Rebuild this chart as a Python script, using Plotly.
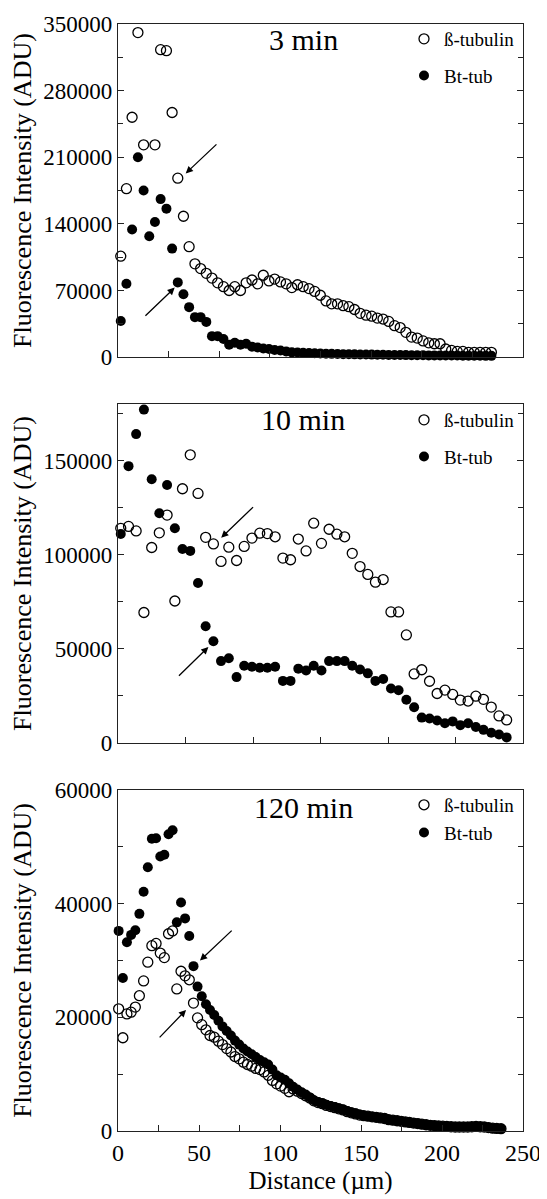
import plotly.graph_objects as go

SERIF = "Liberation Serif"

# ---------------- Panel 1: 3 min ----------------
p1_beta_x = [1.7, 5.2, 8.7, 12.3, 15.8, 22.8, 26.3, 29.9, 33.4, 36.9, 40.4, 43.9, 47.5, 51.0, 54.5,
             58.0, 61.5, 65.1, 68.6, 72.1, 75.6, 79.1, 82.7, 86.2, 89.7, 93.2, 96.7, 100.3, 103.8,
             107.3, 110.8, 114.3, 117.9, 121.4, 124.9, 128.4, 131.9, 135.5, 139.0, 142.5, 146.0,
             149.5, 153.1, 156.6, 160.1, 163.6, 167.1, 170.7, 174.2, 177.7, 181.2, 184.7, 188.3,
             191.8, 195.3, 198.8, 202.3, 205.9, 209.4, 212.9, 216.4, 219.9, 223.5, 227.0, 230.5]
p1_beta_y = [106e3, 177e3, 252e3, 341e3, 223e3, 223e3, 323e3, 322e3, 257e3, 188e3, 148e3, 116e3,
             98e3, 93e3, 88e3, 83e3, 78e3, 74e3, 70e3, 74e3, 70e3, 78e3, 81e3, 77e3, 86e3, 80e3,
             82e3, 79e3, 77e3, 73e3, 76e3, 74e3, 72e3, 69e3, 65e3, 59e3, 56e3, 56e3, 54e3, 53e3,
             50e3, 46e3, 44e3, 43e3, 41e3, 40e3, 37.5e3, 33e3, 31e3, 26e3, 21e3, 20e3, 17e3, 15e3,
             14e3, 14e3, 8.5e3, 7e3, 6e3, 6e3, 5e3, 5e3, 5e3, 5e3, 5e3]
p1_bt_x = [1.7, 5.2, 8.7, 12.3, 15.8, 19.3, 22.8, 26.3, 29.9, 33.4, 36.9, 40.4, 43.9, 47.5, 51.0,
           54.5, 58.0, 61.5, 65.1, 68.6, 72.1, 75.6, 79.1, 82.7, 86.2, 89.7, 93.2, 96.7, 100.3,
           103.8, 107.3, 110.8, 114.3, 117.9, 121.4, 124.9, 128.4, 131.9, 135.5, 139.0, 142.5,
           146.0, 149.5, 153.1, 156.6, 160.1, 163.6, 167.1, 170.7, 174.2, 177.7, 181.2, 184.7,
           188.3, 191.8, 195.3, 198.8, 202.3, 205.9, 209.4, 212.9, 216.4, 219.9, 223.5, 227.0, 230.5]
p1_bt_y = [38e3, 77e3, 134e3, 210e3, 175e3, 127e3, 142e3, 166e3, 156e3, 114e3, 78.5e3, 66e3,
           52.5e3, 42e3, 42e3, 37e3, 22e3, 22e3, 19e3, 13e3, 15e3, 13e3, 14e3, 11e3, 10e3, 9e3,
           8.5e3, 7.5e3, 7e3, 6e3, 5e3, 4.8e3, 4.5e3, 4.3e3, 4.0e3, 3.8e3, 3.6e3, 3.4e3, 3.3e3,
           3.1e3, 3.0e3, 2.9e3, 2.8e3, 2.7e3, 2.6e3, 2.5e3, 2.4e3, 2.3e3, 2.2e3, 2.2e3, 2.1e3,
           2.0e3, 2.0e3, 1.9e3, 1.8e3, 1.8e3, 1.7e3, 1.7e3, 1.6e3, 1.6e3, 1.5e3, 1.5e3, 1.4e3,
           1.4e3, 1.3e3, 1.3e3]

# ---------------- Panel 2: 10 min ----------------
p2_x = [1.7, 6.5, 11.2, 16.0, 20.8, 25.5, 30.3, 35.1, 39.8, 44.6, 49.4, 54.1, 58.9, 63.6, 68.4,
        73.2, 77.9, 82.7, 87.5, 92.2, 97.0, 101.8, 106.5, 111.3, 116.1, 120.8, 125.6, 130.3,
        135.1, 139.9, 144.6, 149.4, 154.2, 158.9, 163.7, 168.5, 173.2, 178.0, 182.8, 187.5,
        192.3, 197.0, 201.8, 206.6, 211.3, 216.1, 220.9, 225.6, 230.4, 235.2, 239.9]
p2_beta_y = [114e3, 115e3, 112.6e3, 69.3e3, 103.8e3, 111.6e3, 121e3, 75.4e3, 135e3, 153e3, 132.5e3,
             109.2e3, 105.7e3, 96.4e3, 104e3, 96.9e3, 104.4e3, 108.8e3, 111.4e3, 111.2e3, 109.5e3,
             98.2e3, 97.3e3, 108.3e3, 102e3, 116.7e3, 106e3, 113.5e3, 110.9e3, 109.5e3, 100.7e3,
             93.7e3, 89.5e3, 85.4e3, 86.8e3, 69.6e3, 69.6e3, 57.4e3, 36.7e3, 38.9e3, 32.8e3,
             26.3e3, 28.1e3, 25.8e3, 22.8e3, 22.3e3, 24.9e3, 23.2e3, 19.1e3, 14.4e3, 12.3e3]
p2_bt_y = [111e3, 147e3, 164e3, 177e3, 140e3, 122e3, 137e3, 114e3, 103e3, 102e3, 85e3, 62e3,
           54e3, 43.5e3, 45e3, 35e3, 41e3, 40.5e3, 40e3, 40e3, 40.5e3, 33e3, 33e3, 39.5e3, 38.5e3,
           41e3, 38.5e3, 43.5e3, 43.5e3, 43.5e3, 41e3, 39e3, 37e3, 33e3, 34e3, 29e3, 28e3, 23e3,
           19e3, 13.5e3, 13e3, 12e3, 10.5e3, 11.5e3, 9.5e3, 10.5e3, 8.5e3, 7e3, 5.5e3, 4.5e3, 3e3]

# ---------------- Panel 3: 120 min ----------------
p3_x = [0.4, 3.0, 5.5, 8.1, 10.7, 13.2, 15.8, 18.4, 20.9, 23.5, 26.1, 28.6, 31.2, 33.7, 36.3,
        38.9, 41.4, 44.0, 46.6, 49.1, 51.7, 54.3, 56.8, 59.4, 62.0, 64.5, 67.1, 69.7, 72.2, 74.8,
        77.4, 79.9, 82.5, 85.0, 87.6, 90.2, 92.7, 95.3, 97.9, 100.4, 103.0, 105.6, 108.1, 110.7,
        113.3, 115.8, 118.4, 120.9, 123.5, 126.1, 128.6, 131.2, 133.8, 136.3, 138.9, 141.5,
        144.0, 146.6, 149.2, 151.7, 154.3, 156.9, 159.4, 162.0, 164.6, 167.1, 169.7, 172.3,
        174.8, 177.4, 179.9, 182.5, 185.1, 187.6, 190.2, 192.8, 195.3, 197.9, 200.5, 203.0,
        205.6, 208.2, 210.7, 213.3, 215.9, 218.4, 221.0, 223.6, 226.1, 228.7, 231.3, 233.8, 236.4]
p3_beta_y = [21.5e3, 16.4e3, 20.6e3, 20.9e3, 21.8e3, 23.8e3, 26.4e3, 29.7e3, 32.6e3, 33.0e3,
             31.3e3, 30.5e3, 34.7e3, 35.2e3, 25.0e3, 28.1e3, 27.3e3, 26.6e3, 22.5e3, 19.9e3,
             18.7e3, 17.8e3, 16.8e3, 16.5e3, 15.8e3, 15.2e3, 14.5e3, 13.9e3, 13.1e3, 12.7e3,
             12.1e3, 11.7e3, 11.4e3, 11.0e3, 10.8e3, 10.4e3, 9.8e3, 8.9e3, 8.3e3, 7.9e3, 7.5e3,
             6.9e3, 7.4e3, 7.0e3, 6.6e3, 6.2e3, 5.8e3, 5.3e3, 5.0e3, 4.8e3, 4.5e3, 4.3e3, 4.1e3,
             3.9e3, 3.7e3, 3.4e3, 3.2e3, 3.0e3, 2.8e3, 2.7e3, 2.6e3, 2.5e3, 2.4e3, 2.3e3, 2.2e3,
             2.0e3, 1.9e3, 1.8e3, 1.7e3, 1.6e3, 1.5e3, 1.4e3, 1.3e3, 1.2e3, 1.1e3, 1.0e3, 0.95e3,
             0.9e3, 0.85e3, 0.8e3, 0.75e3, 0.7e3, 0.7e3, 0.7e3, 0.7e3, 0.75e3, 0.8e3, 0.75e3,
             0.7e3, 0.6e3, 0.5e3, 0.45e3, 0.4e3]
p3_bt_y = [35.2e3, 26.9e3, 33.2e3, 34.5e3, 35.3e3, 38.2e3, 42.1e3, 46.4e3, 51.4e3, 51.5e3, 48.3e3,
           48.6e3, 52.2e3, 52.9e3, 36.7e3, 40.2e3, 37.4e3, 34.3e3, 29.0e3, 25.4e3, 23.7e3, 22.3e3,
           21.3e3, 20.4e3, 19.4e3, 18.4e3, 17.6e3, 16.8e3, 15.9e3, 15.2e3, 14.5e3, 14.0e3, 13.5e3,
           13.0e3, 12.5e3, 12.1e3, 11.7e3, 10.8e3, 9.8e3, 9.4e3, 9.0e3, 8.4e3, 7.8e3, 7.3e3,
           6.8e3, 6.4e3, 5.9e3, 5.4e3, 5.1e3, 4.9e3, 4.6e3, 4.4e3, 4.2e3, 4.0e3, 3.8e3, 3.5e3,
           3.3e3, 3.1e3, 2.9e3, 2.7e3, 2.6e3, 2.5e3, 2.4e3, 2.3e3, 2.2e3, 2.0e3, 1.9e3, 1.8e3,
           1.7e3, 1.6e3, 1.5e3, 1.4e3, 1.3e3, 1.2e3, 1.1e3, 1.0e3, 0.95e3, 0.9e3, 0.85e3, 0.8e3,
           0.75e3, 0.7e3, 0.7e3, 0.7e3, 0.7e3, 0.75e3, 0.8e3, 0.75e3, 0.7e3, 0.6e3, 0.5e3,
           0.45e3, 0.4e3]

series_names = ["ß-tubulin", "Bt-tub"]
panel_titles = ["3 min", "10 min", "120 min"]
y_tick_steps = [70000, 50000, 20000]
y_ranges = [[0, 350000], [0, 180000], [0, 60000]]
x_tick_labels = ["0", "50", "100", "150", "200", "250"]

# arrows: (head_x, head_y, tail_x, tail_y) per panel
arrows = [
    [(41.8, 193e3, 61.7, 225e3), (35.0, 73e3, 16.0, 42e3)],
    [(63.7, 109e3, 84.3, 126e3), (55.8, 51e3, 36.7, 35e3)],
    [(50.6, 30e3, 71.1, 35.5e3), (42.0, 21.3e3, 24.8, 16.2e3)],
]

panels = [
    (p1_beta_x, p1_beta_y, p1_bt_x, p1_bt_y),
    (p2_x, p2_beta_y, p2_x, p2_bt_y),
    (p3_x, p3_beta_y, p3_x, p3_bt_y),
]

fig = go.Figure()
legend_ids = ["legend", "legend2", "legend3"]
for i, (bx, by, fx, fy) in enumerate(panels):
    xa = "x" if i == 0 else f"x{i+1}"
    ya = "y" if i == 0 else f"y{i+1}"
    fig.add_trace(go.Scatter(
        x=bx, y=by, mode="markers", name=series_names[0], xaxis=xa, yaxis=ya,
        legend=legend_ids[i], legendgroup=f"b{i}", cliponaxis=False,
        marker=dict(symbol="circle-open", size=10, color="black", line=dict(width=1.3, color="black"))))
    fig.add_trace(go.Scatter(
        x=fx, y=fy, mode="markers", name=series_names[1], xaxis=xa, yaxis=ya,
        legend=legend_ids[i], legendgroup=f"f{i}", cliponaxis=False,
        marker=dict(symbol="circle", size=10, color="black", line=dict(width=0))))

# page is 547x1199; the html body adds an 8px offset, so the figure is 8px smaller
PAGE_W, PAGE_H, OFF = 547, 1199, 8
W, H = PAGE_W - OFF, PAGE_H - OFF
# plot area in page pixels
L_PIX, R_PIX, T_PIX, B_PIX = 118, 523, 21, 1131
mt, mb, ml, mr = T_PIX - OFF, PAGE_H - B_PIX, L_PIX - OFF, PAGE_W - R_PIX
plot_h = B_PIX - T_PIX


def py(pix):
    return (B_PIX - pix) / plot_h


def px(pix):
    return (pix - L_PIX) / (R_PIX - L_PIX)


y_domains = [[py(355), 1.0], [py(742), py(402)], [0.0, py(789)]]

line_col = "#222222"
axis_common = dict(showgrid=False, zeroline=False, showline=True, linecolor=line_col,
                   linewidth=1.3, ticks="inside", ticklen=6, tickwidth=1.2, tickcolor=line_col,
                   automargin=False, ticklabeloverflow="allow")
layout = dict(
    width=W, height=H, paper_bgcolor="white", plot_bgcolor="white",
    margin=dict(t=mt, b=mb, l=ml, r=mr),
    font=dict(family=SERIF, color="black"),
    showlegend=True,
)
x_dticks = [250 / 8, 250 / 6, 50]
for i in range(3):
    xk = "xaxis" if i == 0 else f"xaxis{i+1}"
    yk = "yaxis" if i == 0 else f"yaxis{i+1}"
    ya = "y" if i == 0 else f"y{i+1}"
    xa = "x" if i == 0 else f"x{i+1}"
    xd = dict(axis_common, range=[0, 250], domain=[0, 1], anchor=ya, mirror=True,
              tick0=0, dtick=x_dticks[i], showticklabels=(i == 2),
              tickfont=dict(family=SERIF, size=24, color="black"))
    if i == 2:
        xd["tickmode"] = "array"
        xd["tickvals"] = [float(t) for t in x_tick_labels]
        xd["ticktext"] = x_tick_labels
        xd["minor"] = dict(ticks="inside", ticklen=6, tickwidth=1.2, tickcolor=line_col, dtick=25, tick0=0)
        xd["title"] = dict(text="Distance (µm)", font=dict(family=SERIF, size=25, color="black"), standoff=6)
    layout[xk] = xd
    layout[yk] = dict(axis_common, range=y_ranges[i], domain=y_domains[i], anchor=xa,
                      mirror="ticks", tick0=0, dtick=y_tick_steps[i], tickformat="d",
                      tickfont=dict(family=SERIF, size=23, color="black"),
                      ticklabelstandoff=0,
                      minor=dict(ticks="inside", ticklen=5, tickwidth=1.2, tickcolor=line_col,
                                 dtick=y_tick_steps[i] / 2, tick0=0),
                      title=dict(text="Fluorescence Intensity (ADU)",
                                 font=dict(family=SERIF, size=26, color="black"),
                                 standoff=5 if i < 2 else 17))

leg_tops = [17, 399, 785]
leg_gaps = [9, 9, 0]
for i, lid in enumerate(legend_ids):
    layout[lid] = dict(x=px(404), y=py(leg_tops[i]), xanchor="left", yanchor="top",
                       bgcolor="rgba(0,0,0,0)", borderwidth=0,
                       font=dict(family=SERIF, size=19, color="black"),
                       tracegroupgap=leg_gaps[i], itemwidth=30, traceorder="grouped")

annotations = []
title_centers = [37, 418, 807]
for i in range(3):
    annotations.append(dict(text=panel_titles[i], xref="paper", yref="paper",
                            x=px(303), y=py(title_centers[i]), xanchor="center", yanchor="middle",
                            showarrow=False, font=dict(family=SERIF, size=30, color="black")))
    xa = "x" if i == 0 else f"x{i+1}"
    ya = "y" if i == 0 else f"y{i+1}"
    for (hx, hy, tx, ty) in arrows[i]:
        annotations.append(dict(text="", x=hx, y=hy, ax=tx, ay=ty, xref=xa, yref=ya,
                                axref=xa, ayref=ya, showarrow=True, arrowhead=2,
                                arrowsize=1.1, arrowwidth=1.3, arrowcolor="black", standoff=0))
layout["annotations"] = annotations

fig.update_layout(**layout)
fig.write_html("out.html")
